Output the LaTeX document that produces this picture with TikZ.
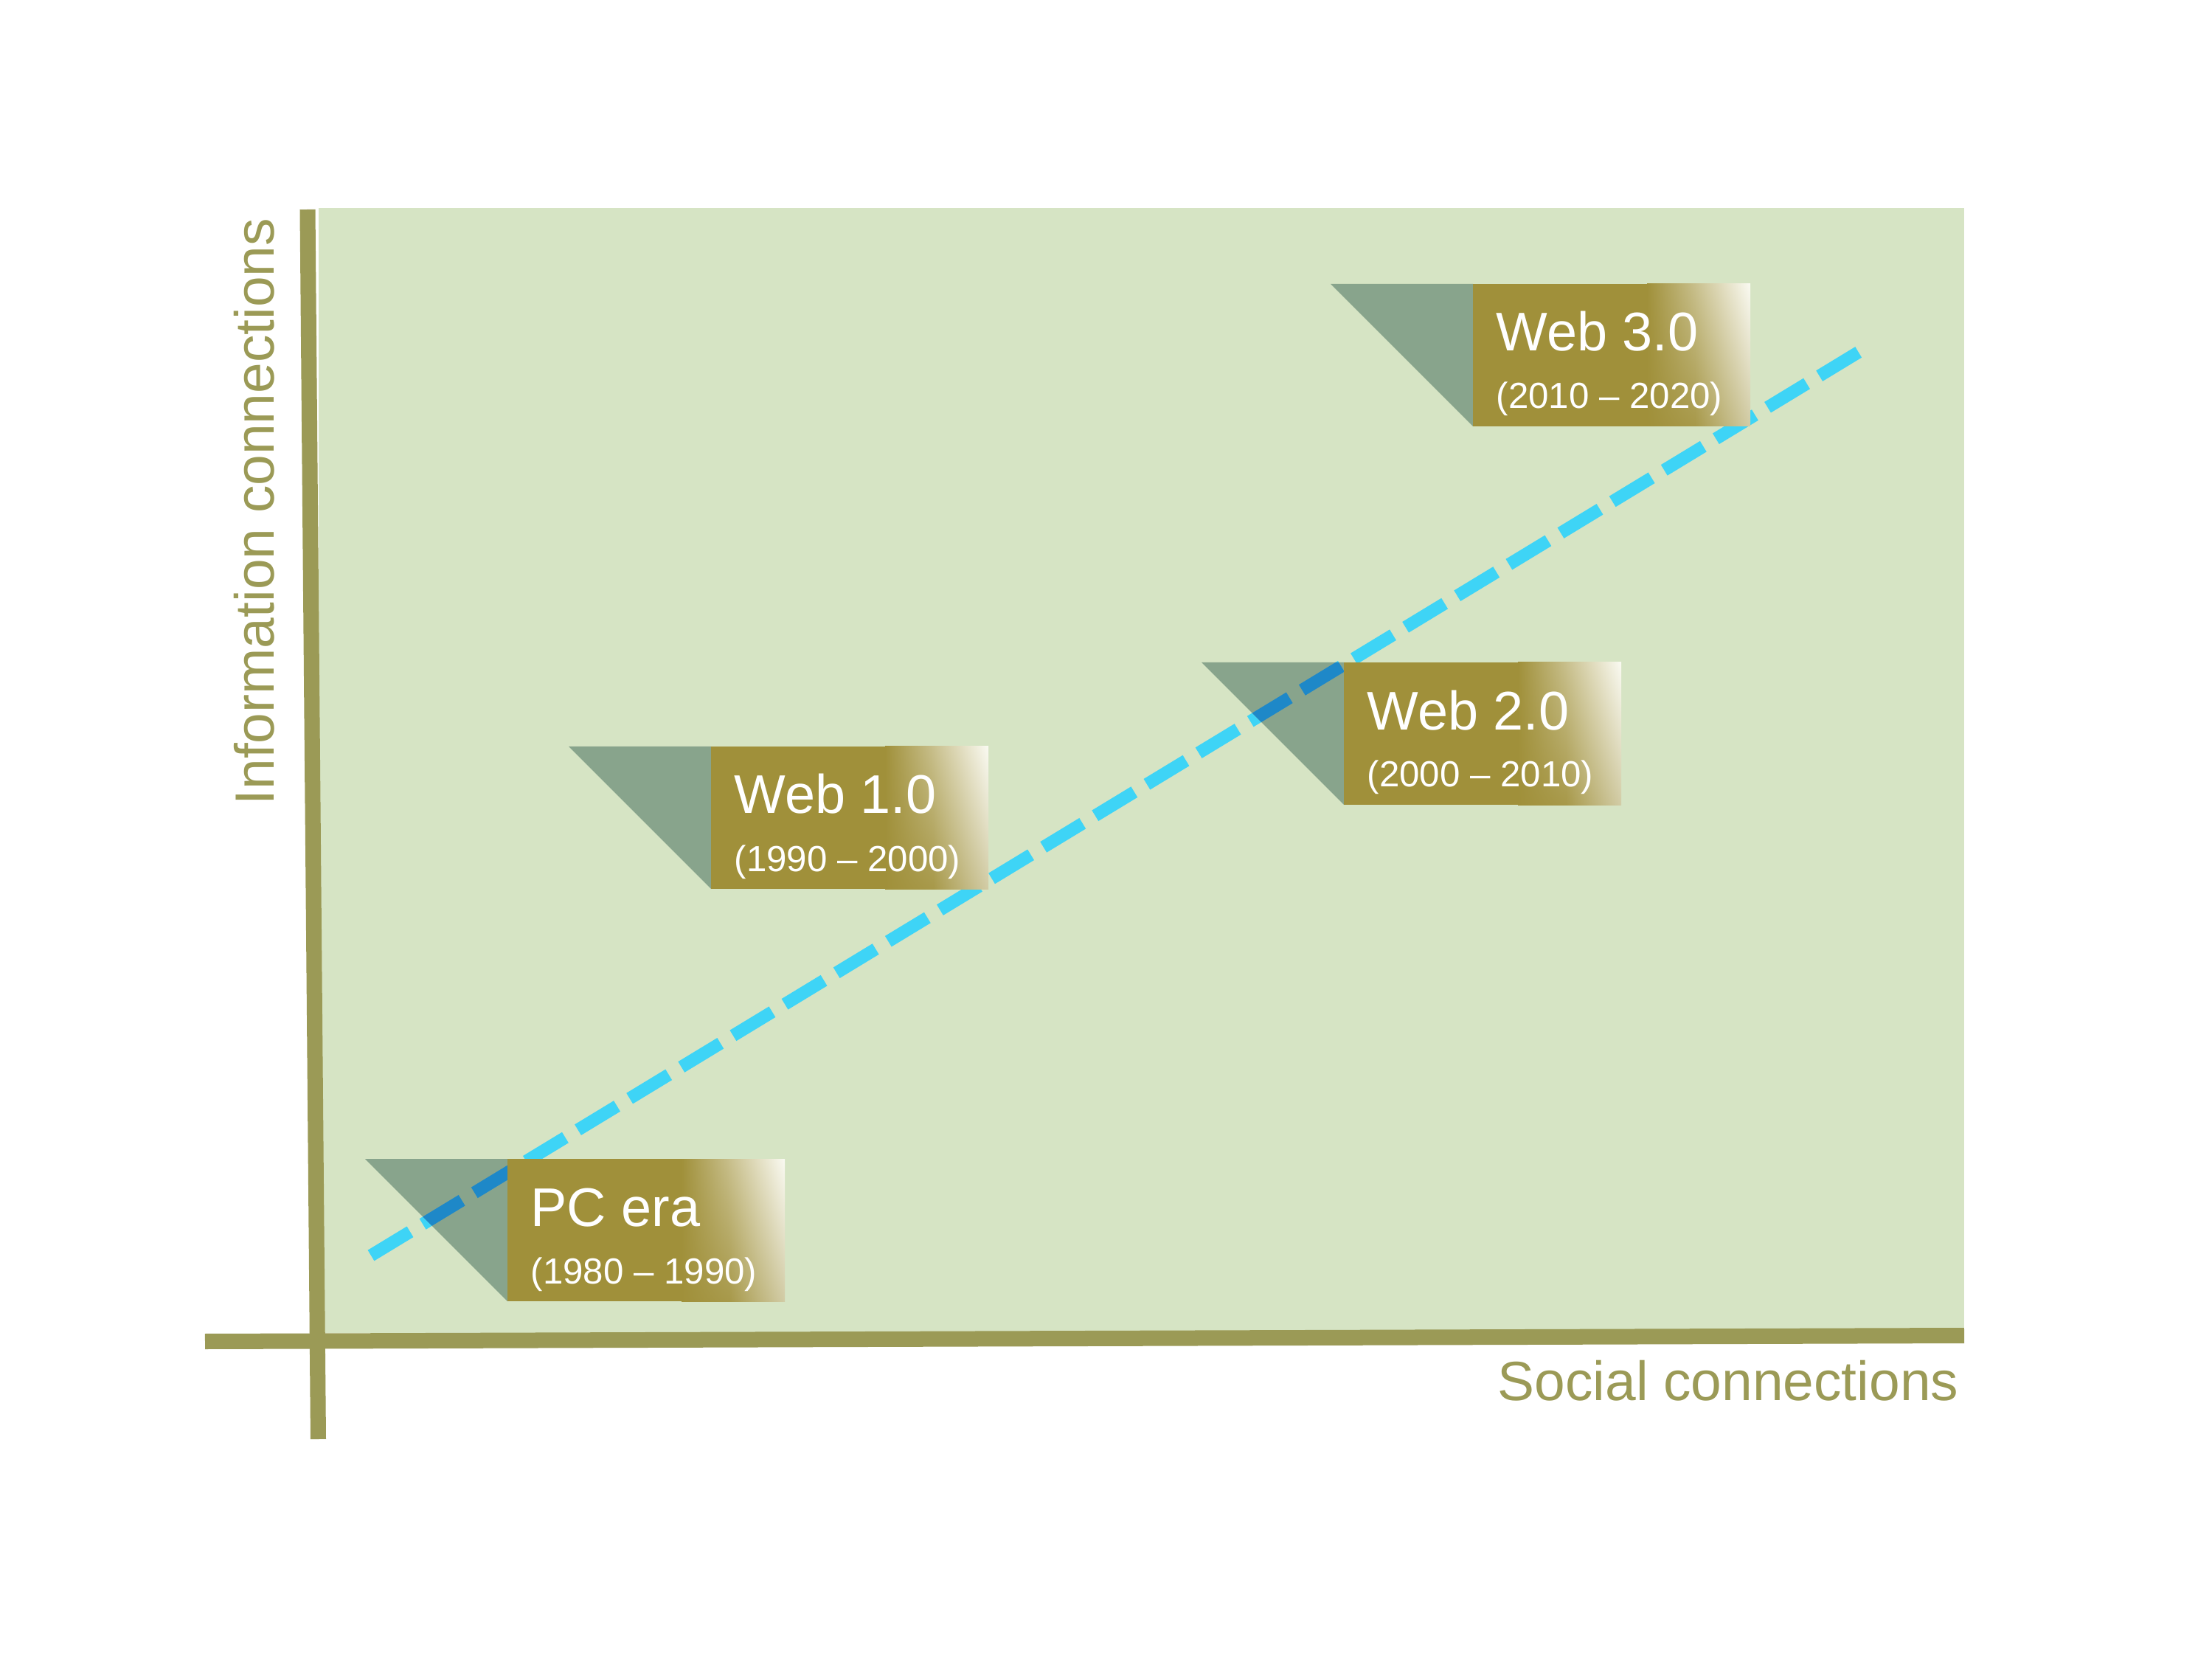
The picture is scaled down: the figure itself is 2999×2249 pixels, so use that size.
\documentclass[tikz,border=0pt]{standalone}
\usepackage{fontspec}
\setmainfont{Liberation Sans}
\usetikzlibrary{calc,shadings}
\definecolor{bggreen}{RGB}{214,228,196}
\definecolor{axisolive}{RGB}{155,154,86}
\definecolor{boxolive}{RGB}{160,144,58}
\definecolor{boxcream}{RGB}{250,250,242}
\definecolor{boxtan}{RGB}{210,204,166}
\colorlet{fadetop}{boxolive!55!boxcream}
\colorlet{fadebottom}{boxolive!85!boxtan}
\definecolor{pointergreen}{RGB}{136,164,140}
\definecolor{trendcyan}{RGB}{62,212,246}
\definecolor{trenddark}{RGB}{30,136,200}
\tikzset{
  axisline/.style={draw=axisolive, line width=2.1mm},
  trendline/.style={line width=1.7mm, dash pattern=on 6.2mm off 2mm},
  axislabel/.style={text=axisolive, font=\fontsize{21.3}{25}\selectfont, inner sep=0pt},
  eratitle/.style={text=white, font=\fontsize{21}{25}\selectfont,
                   anchor=base west, inner sep=0pt},
  erayears/.style={text=white, font=\fontsize{14}{17}\selectfont,
                   anchor=base west, inner sep=0pt},
  erapointer/.style={fill=pointergreen}
}

\begin{document}
\begin{tikzpicture}[x=0.01cm, y=-0.01cm]
\useasboundingbox (0,0) rectangle (2999,2249);
\fill[bggreen] (432,282) rectangle (2663,1807);
% axes
\coordinate (yaxis-top) at (417,284);
\coordinate (yaxis-end) at (431.5,1951);
\coordinate (xaxis-start) at (278,1818.5);
\coordinate (xaxis-end) at (2663,1810.5);
\draw[axisline] (yaxis-top) -- (yaxis-end);
\draw[axisline] (xaxis-start) -- (xaxis-end);
\node[axislabel, anchor=base west, rotate=90] (infolabel) at (371,1092) {Information connections};
\node[axislabel, anchor=base east] (sociallabel) at (2656,1898) {Social connections};
% trend line
\coordinate (trendstart) at (503,1702);
\coordinate (trendend) at (2522,476);
\draw[trendline, draw=trendcyan] (trendstart) -- (trendend);
% era labels
\foreach \era/\x/\y/\title/\years in {
  pc/688/1571/{PC era}/{(1980 – 1990)},
  webone/964/1012/{Web 1.0}/{(1990 – 2000)},
  webtwo/1822/898/{Web 2.0}/{(2000 – 2010)},
  webthree/1997/385/{Web 3.0}/{(2010 – 2020)}}{
    \fill[erapointer] (\x-193,\y) -- (\x,\y) -- (\x,\y+193) -- cycle;
    \begin{scope}
      \clip (\x-193,\y) -- (\x,\y) -- (\x,\y+193) -- cycle;
      \draw[trendline, draw=trenddark] (trendstart) -- (trendend);
    \end{scope}
    \fill[boxolive] (\x,\y) rectangle (\x+376,\y+193);
    \shade[upper left=boxolive, lower left=boxolive,
           upper right=fadetop, lower right=fadebottom]
      (\x+236,\y) rectangle (\x+302,\y+193);
    \shade[upper left=fadetop, lower left=fadebottom,
           upper right=boxcream, lower right=boxtan]
      (\x+301.5,\y) rectangle (\x+376,\y+193);
    \node[eratitle] (\era-title) at (\x+31,\y+91) {\title};
    \node[erayears] (\era-years) at (\x+31,\y+169) {\years};
}
\end{tikzpicture}
\end{document}
